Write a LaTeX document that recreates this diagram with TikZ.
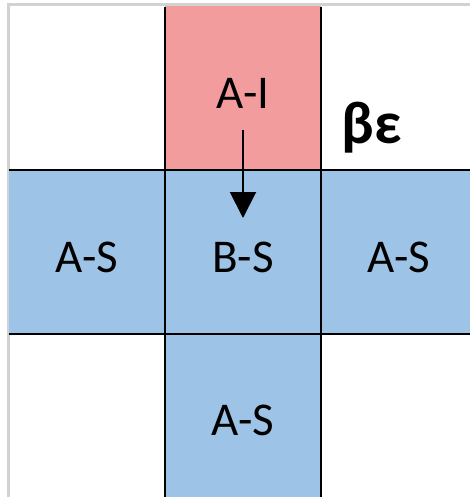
\documentclass[tikz,border=0pt]{standalone}
\usepackage{fontspec}
\setmainfont{Carlito}
\usetikzlibrary{arrows.meta}
\definecolor{cellred}{HTML}{F29C9E}
\definecolor{cellblue}{HTML}{9DC3E6}
\definecolor{framegray}{HTML}{D2D2D2}

\begin{document}
\begin{tikzpicture}[x=1pt,y=-1pt,>={Triangle[length=26pt,width=26pt]},
  cell/.style={minimum width=156pt,minimum height=164pt,inner sep=0pt,
    text height=40pt,text depth=0pt,font=\fontsize{47}{47}\selectfont},
  gridline/.style={line width=2pt}]
\useasboundingbox[fill=white] (0,0) rectangle (470,497);
\draw[framegray,line width=3pt] (8,497)--(8,5)--(470,5);
% cells
\node[cell,fill=cellred] (ai) at (243,88.5) {A-I};
\node[cell,fill=cellblue] (asl) at (87,252) {A-S};
\node[cell,fill=cellblue] (bs) at (243,252) {B-S};
\node[cell,fill=cellblue] (asr) at (399,252) {A-S};
\node[cell,fill=cellblue] (asb) at (243,415.5) {A-S};
\node[anchor=base west,font=\fontsize{60}{60}\selectfont\bfseries] (be) at (338,143) {βε};
% grid
\draw[gridline] (165,7)--(165,497);
\draw[gridline] (321,7)--(321,497);
\draw[gridline] (9,170)--(470,170);
\draw[gridline] (9,334)--(470,334);
\draw[->,line width=2pt] ([yshift=-42pt]ai.center)--([yshift=34pt]bs.center);
\end{tikzpicture}
\end{document}
